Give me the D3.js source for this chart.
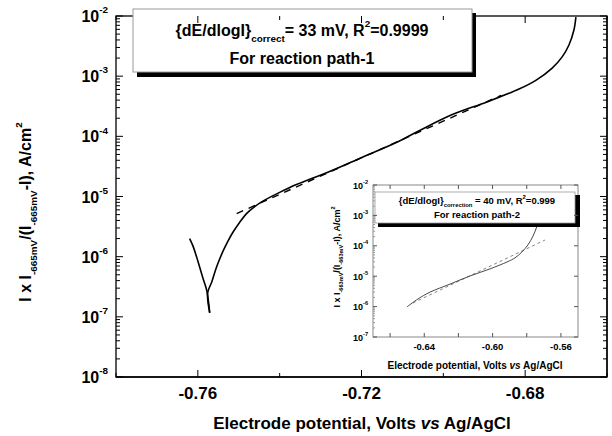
<!DOCTYPE html>
<html lang="en">
<head>
<meta charset="UTF-8">
<title>Tafel plot</title>
<style>
body{margin:0;background:#fff;}
text{font-family:"Liberation Sans",Arial,sans-serif;font-weight:bold;fill:#000;}
</style>
</head>
<body>
<script src="https://d3js.org/d3.v7.min.js"></script>
<script>
// main plot data (first 6 points = cathodic branch down to the spike)
var mainE = [-0.7620,-0.7612,-0.7600,-0.7588,-0.7578,-0.7571,
             -0.7576,-0.7566,-0.7554,-0.7539,-0.7527,-0.7515,-0.7498,-0.7481,-0.7461,-0.7442,-0.7400,
             -0.7359,-0.7278,-0.7198,-0.7115,-0.7059,-0.6978,-0.6895,-0.6815,-0.6773,-0.6734,-0.6710,
             -0.6693,-0.6681,-0.6676];
var mainI = [2.0e-6,1.51e-6,8.5e-7,4.5e-7,2.7e-7,1.17e-7,
             2.5e-7,3.8e-7,6.8e-7,1.21e-6,1.78e-6,2.5e-6,3.7e-6,5.2e-6,6.8e-6,8.3e-6,1.17e-5,
             1.58e-5,2.6e-5,4.5e-5,7.9e-5,1.24e-4,2.3e-4,3.7e-4,6.1e-4,8.6e-4,1.36e-3,2.07e-3,
             3.3e-3,5.8e-3,9.6e-3];
var fitE = [-0.7505,-0.6859];
var fitI = [5.2e-6,4.8e-4];
var xTicks = [-0.76,-0.72,-0.68];
var yTicks = [1e-8,1e-7,1e-6,1e-5,1e-4,1e-3,1e-2];

// inset data
var insE = [-0.6501,-0.6437,-0.6366,-0.6249,-0.6132,-0.6015,-0.5915,-0.5869,-0.5828,-0.5793,-0.5763,-0.5740,-0.5722];
var insI = [9.8e-7,1.78e-6,3.0e-6,5.5e-6,1.02e-5,1.74e-5,2.95e-5,4.0e-5,6.3e-5,1.07e-4,2.1e-4,4.5e-4,1.02e-3];
var insFitE = [-0.6466,-0.5693];
var insFitI = [1.32e-6,1.55e-4];
var insXTicks = [-0.64,-0.60,-0.56];
var insYTicks = [1e-7,1e-6,1e-5,1e-4,1e-3,1e-2];

var svg = d3.select("body").append("svg").attr("width",612).attr("height",436);

// write text made of pieces, some sub/superscript
function rich(g, parts, size){
	var shift = 0;
	parts.forEach(function(p){
		var s = p.sub ? 0.35 : (p.sup ? -0.55 : 0);
		var fs = (p.sub||p.sup) ? size*0.62 : size;
		g.append("tspan").attr("font-size",fs)
			.attr("font-style",p.it ? "italic" : null)
			.attr("dy",((s-shift)*size)+"px").text(p.t);
		shift = s;
	});
}

var x = d3.scaleLinear().domain([-0.78,-0.66]).range([116,607]);
var y = d3.scaleLog().domain([1e-8,1e-2]).range([377,16]);

var line = d3.line().x(function(d){return x(d[0]);}).y(function(d){return y(d[1]);});
var smooth = d3.line().x(function(d){return x(d[0]);}).y(function(d){return y(d[1]);})
	.curve(d3.curveCatmullRom.alpha(0.5));

// frame
svg.append("rect").attr("x",116).attr("y",16).attr("width",491).attr("height",361)
	.attr("fill","none").attr("stroke","#000").attr("stroke-width",1.3);

// curve + fit
var pts = d3.zip(mainE,mainI);
svg.append("path").datum(pts.slice(0,6)).attr("d",smooth)
	.attr("fill","none").attr("stroke","#000").attr("stroke-width",1.6);
svg.append("path").datum(pts.slice(5)).attr("d",smooth)
	.attr("fill","none").attr("stroke","#000").attr("stroke-width",1.6);
svg.append("path").datum(d3.zip(fitE,fitI)).attr("d",line)
	.attr("fill","none").attr("stroke","#000").attr("stroke-width",1.4).attr("stroke-dasharray","7,6");

// annotation box
svg.append("rect").attr("x",137).attr("y",13).attr("width",339).attr("height",64).attr("fill","#000");
svg.append("rect").attr("x",133).attr("y",9).attr("width",339).attr("height",63)
	.attr("fill","#fff").attr("stroke","#999").attr("stroke-width",1);
var t1 = svg.append("text").attr("x",302).attr("y",36).attr("text-anchor","middle");
rich(t1,[{t:"{dE/dlogI}"},{t:"correct",sub:true},{t:"= 33 mV, R"},{t:"2",sup:true},{t:"=0.9999"}],16);
svg.append("text").attr("x",302).attr("y",64).attr("text-anchor","middle").attr("font-size",16)
	.text("For reaction path-1");

// ticks
var axes = svg.append("g");
var minorX = [-0.78,-0.74,-0.70,-0.66];
xTicks.forEach(function(v){
	axes.append("line").attr("x1",x(v)).attr("x2",x(v)).attr("y1",377).attr("y2",370).attr("stroke","#000");
	axes.append("line").attr("x1",x(v)).attr("x2",x(v)).attr("y1",16).attr("y2",23).attr("stroke","#000");
	axes.append("text").attr("x",x(v)).attr("y",399).attr("text-anchor","middle").attr("font-size",17)
		.text(v.toFixed(2));
});
minorX.forEach(function(v){
	axes.append("line").attr("x1",x(v)).attr("x2",x(v)).attr("y1",377).attr("y2",373).attr("stroke","#000");
	axes.append("line").attr("x1",x(v)).attr("x2",x(v)).attr("y1",16).attr("y2",20).attr("stroke","#000");
});
yTicks.forEach(function(v,i){
	axes.append("line").attr("x1",116).attr("x2",123).attr("y1",y(v)).attr("y2",y(v)).attr("stroke","#000");
	axes.append("line").attr("x1",607).attr("x2",600).attr("y1",y(v)).attr("y2",y(v)).attr("stroke","#000");
	var e = Math.round(Math.log10(v));
	var t = axes.append("text").attr("x",108).attr("y",y(v)+6).attr("text-anchor","end");
	rich(t,[{t:"10"},{t:String(e),sup:true}],16);
	if(i < yTicks.length-1){
		for(var k=2;k<10;k++){
			var yy = y(v*k);
			axes.append("line").attr("x1",116).attr("x2",120).attr("y1",yy).attr("y2",yy).attr("stroke","#000");
			axes.append("line").attr("x1",607).attr("x2",603).attr("y1",yy).attr("y2",yy).attr("stroke","#000");
		}
	}
});

// axis titles
var xt = svg.append("text").attr("x",362).attr("y",429).attr("text-anchor","middle");
rich(xt,[{t:"Electrode potential, Volts "},{t:"vs",it:true},{t:" Ag/AgCl"}],17);
var yt = svg.append("text").attr("transform","translate(31,212) rotate(-90)").attr("text-anchor","middle");
rich(yt,[{t:"I x I"},{t:"-665mV",sub:true},{t:"/(I"},{t:"-665mV",sub:true},{t:"-I), A/cm"},{t:"2",sup:true}],16);

// ---- inset ----
var ins = svg.append("g");
ins.append("rect").attr("x",328).attr("y",174).attr("width",274).attr("height",199).attr("fill","#fff");
var ix = d3.scaleLinear().domain([-0.67,-0.55]).range([373,578]);
var iy = d3.scaleLog().domain([1e-7,1e-2]).range([337,185]);
var iline = d3.line().x(function(d){return ix(d[0]);}).y(function(d){return iy(d[1]);});
var ismooth = d3.line().x(function(d){return ix(d[0]);}).y(function(d){return iy(d[1]);})
	.curve(d3.curveCatmullRom.alpha(0.5));

ins.append("rect").attr("x",373).attr("y",185).attr("width",205).attr("height",152)
	.attr("fill","none").attr("stroke","#888").attr("stroke-width",1);
ins.append("path").datum(d3.zip(insFitE,insFitI)).attr("d",iline)
	.attr("fill","none").attr("stroke","#777").attr("stroke-width",0.9).attr("stroke-dasharray","3,3");
ins.append("path").datum(d3.zip(insE,insI)).attr("d",ismooth)
	.attr("fill","none").attr("stroke","#333").attr("stroke-width",0.9);

ins.append("rect").attr("x",378).attr("y",195).attr("width",202).attr("height",32).attr("fill","#000");
ins.append("rect").attr("x",375).attr("y",192).attr("width",200).attr("height",31)
	.attr("fill","#fff").attr("stroke","#999").attr("stroke-width",0.8);
var it1 = ins.append("text").attr("x",477).attr("y",204).attr("text-anchor","middle");
rich(it1,[{t:"{dE/dlogI}"},{t:"correction",sub:true},{t:" = 40 mV, R"},{t:"2",sup:true},{t:"=0.999"}],9.5);
ins.append("text").attr("x",477).attr("y",218).attr("text-anchor","middle").attr("font-size",9.5)
	.text("For reaction path-2");

[-0.66,-0.64,-0.62,-0.60,-0.58,-0.56].forEach(function(v){
	ins.append("line").attr("x1",ix(v)).attr("x2",ix(v)).attr("y1",337).attr("y2",333).attr("stroke","#555");
	ins.append("line").attr("x1",ix(v)).attr("x2",ix(v)).attr("y1",185).attr("y2",189).attr("stroke","#555");
});
insXTicks.forEach(function(v){
	ins.append("text").attr("x",ix(v)).attr("y",350).attr("text-anchor","middle").attr("font-size",9.5)
		.text(v.toFixed(2));
});
insYTicks.forEach(function(v,i){
	ins.append("line").attr("x1",373).attr("x2",377).attr("y1",iy(v)).attr("y2",iy(v)).attr("stroke","#555");
	ins.append("line").attr("x1",578).attr("x2",574).attr("y1",iy(v)).attr("y2",iy(v)).attr("stroke","#555");
	var e = Math.round(Math.log10(v));
	var t = ins.append("text").attr("x",368).attr("y",iy(v)+3.5).attr("text-anchor","end");
	rich(t,[{t:"10"},{t:String(e),sup:true}],9);
	if(i < insYTicks.length-1){
		for(var k=2;k<10;k++){
			ins.append("line").attr("x1",373).attr("x2",375).attr("y1",iy(v*k)).attr("y2",iy(v*k)).attr("stroke","#999");
		}
	}
});
var ixt = ins.append("text").attr("x",475).attr("y",369).attr("text-anchor","middle");
rich(ixt,[{t:"Electrode potential, Volts "},{t:"vs",it:true},{t:" Ag/AgCl"}],10);
var iyt = ins.append("text").attr("transform","translate(340,257) rotate(-90)").attr("text-anchor","middle");
rich(iyt,[{t:"I x I"},{t:"-663mV",sub:true},{t:"/(I"},{t:"-663mV",sub:true},{t:"-I), A/cm"},{t:"2",sup:true}],9);

// main frame bits over the inset background
svg.append("line").attr("x1",116).attr("x2",607).attr("y1",377).attr("y2",377).attr("stroke","#000").attr("stroke-width",1.3);
svg.append("line").attr("x1",607).attr("x2",607).attr("y1",16).attr("y2",377).attr("stroke","#000").attr("stroke-width",1.3);
svg.node().appendChild(axes.node());
</script>
</body>
</html>
